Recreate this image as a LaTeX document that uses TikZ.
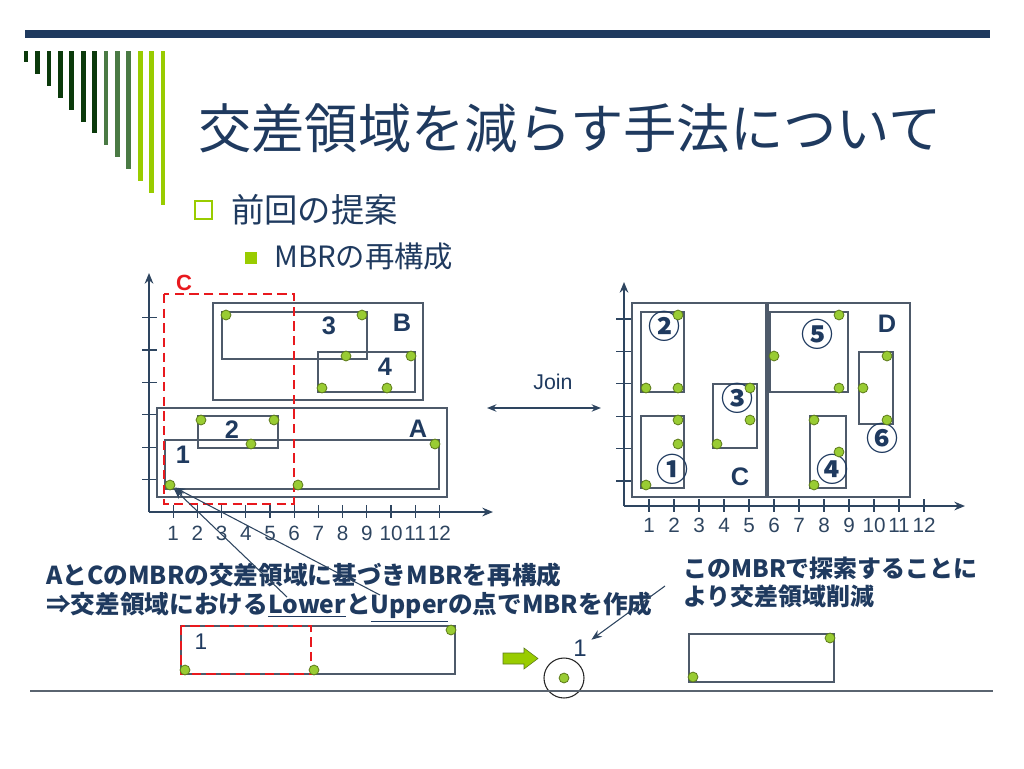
\documentclass[tikz,border=0pt]{standalone}
\usepackage{fontspec}
\setmainfont{Liberation Sans}
\newfontfamily\jp{Noto Sans CJK JP}
\usetikzlibrary{arrows.meta}
\definecolor{navy}{HTML}{1F3A5F}
\definecolor{axisblue}{HTML}{2E4560}
\definecolor{boxgray}{HTML}{4E5A6A}
\definecolor{dotgreen}{HTML}{99CC33}
\definecolor{dotedge}{HTML}{5C7A1A}
\definecolor{cutred}{HTML}{E8191E}
\definecolor{lime}{HTML}{99CC00}
\definecolor{dkgreen}{HTML}{0B3A0B}
\definecolor{mdgreen}{HTML}{4A7A44}
\definecolor{rulegray}{HTML}{5A6470}
\tikzset{
  mbr/.style={draw=boxgray, line width=1.1pt},
  pt/.style={circle, draw=dotedge, fill=dotgreen, line width=0.6pt, inner sep=0pt, minimum size=7.4pt},
  axis/.style={draw=axisblue, line width=1.3pt, -{Stealth[length=8pt,width=6.5pt]}},
  tick/.style={draw=axisblue, line width=0.8pt},
  num/.style={font=\fontsize{15.5}{15.5}\selectfont, text=axisblue, inner sep=0pt},
  lbl/.style={font=\bfseries\fontsize{19}{19}\selectfont, text=navy, inner sep=1pt},
  circ/.style={font=\jp\bfseries\fontsize{24}{24}\selectfont, text=navy, inner sep=0pt},
  cut/.style={draw=cutred, line width=2pt, dash pattern=on 7pt off 4pt},
  pointer/.style={draw=axisblue, line width=0.8pt, -{Stealth[length=8pt,width=6pt]}},
  note/.style={anchor=west, font=\jp\bfseries\fontsize{18.5}{18.5}\selectfont, text=navy, inner sep=0pt},
}
\begin{document}
\begin{tikzpicture}[x=0.75pt,y=-0.75pt]
\useasboundingbox (0,0) rectangle (1024,768);
% header
\fill[navy] (25,30) rectangle (990,38);
\foreach \i/\c in {0/dkgreen,1/dkgreen,2/dkgreen,3/dkgreen,4/dkgreen,5/dkgreen,6/dkgreen,7/mdgreen,8/mdgreen,9/mdgreen,10/lime,11/lime,12/lime}
  \fill[\c] ({23.7+11.42*\i},51) rectangle ({28.4+11.42*\i},{62+11.9*\i});
\node[font=\jp\fontsize{40}{40}\selectfont, text=navy] (title) at (570,128) {交差領域を減らす手法について};
\draw[lime, line width=1.6pt] (195,201) rectangle (212,219);
\node[anchor=west, font=\jp\fontsize{25}{25}\selectfont, text=navy, inner sep=0pt] (item1) at (231,210) {前回の提案};
\fill[lime] (245,252) rectangle (257,264);
\node[anchor=west, font=\jp\fontsize{22}{22}\selectfont, text=navy, inner sep=0pt] (item2) at (274,256) {MBRの再構成};
% left chart
\draw[axis] (149,512) -- (493,512);
\draw[axis] (149,512) -- (149,273);
\foreach \i in {1,...,12} {
  \draw[tick] ({149+24.2*\i},505) -- ({149+24.2*\i},518);
  \node[num] (lx\i) at ({149+24.2*\i},533) {\i};
}
\foreach \j in {1,...,6}
  \draw[tick] (142,{512-32.4*\j}) -- (157,{512-32.4*\j});
\draw[mbr] (213,303) rectangle (423,400);
\draw[mbr] (222,312) rectangle (367,359);
\draw[mbr] (318,352) rectangle (415,392);
\draw[mbr] (157,408) rectangle (447,497);
\draw[mbr] (198,416) rectangle (278,448);
\draw[mbr] (165,440) rectangle (439,489);
\draw[cut] (164,294) rectangle (294,504);
\node[font=\bfseries\fontsize{16.5}{16.5}\selectfont, text=cutred] (lc) at (184,283) {C};
\node[lbl] (lb) at (402,323) {B};
\node[lbl] (l3) at (329,326) {3};
\node[lbl] (l4) at (385,367) {4};
\node[lbl] (la) at (418,429) {A};
\node[lbl] (l2) at (232,430) {2};
\node[lbl] (l1) at (183,455) {1};
\node[pt] (b1) at (226,315) {};
\node[pt] (b2) at (362,315) {};
\node[pt] (b3) at (346,356) {};
\node[pt] (b4) at (411,356) {};
\node[pt] (b5) at (322,388) {};
\node[pt] (b6) at (387,388) {};
\node[pt] (a1) at (201,420) {};
\node[pt] (a2) at (274,420) {};
\node[pt] (a3) at (251,444) {};
\node[pt] (a4) at (435,444) {};
\node[pt] (a5) at (170,485) {};
\node[pt] (a6) at (298,485) {};
% join
\node[font=\fontsize{16}{16}\selectfont, text=navy] (join) at (553,382) {Join};
\coordinate (jl) at (487,408);
\coordinate (jr) at (601,408);
\draw[axisblue, line width=1.2pt, {Stealth[length=7pt,width=5.5pt]}-{Stealth[length=7pt,width=5.5pt]}] (jl) -- (jr);
% right chart
\draw[axis] (624,506) -- (965,506);
\draw[axis] (624,506) -- (624,282);
\foreach \i in {1,...,12} {
  \draw[tick] ({624+25*\i},499) -- ({624+25*\i},512);
  \node[num] (rx\i) at ({624+25*\i},525) {\i};
}
\foreach \j in {1,...,6}
  \draw[tick] (616,{513.4-32.4*\j}) -- (633,{513.4-32.4*\j});
\draw[mbr] (632,303) rectangle (766,497);
\draw[mbr] (768,303) rectangle (910,497);
\draw[mbr] (641,312) rectangle (684,392);
\draw[mbr] (641,416) rectangle (684,488);
\draw[mbr] (713,384) rectangle (757,448);
\draw[mbr] (770,312) rectangle (848,392);
\draw[mbr] (810,416) rectangle (846,488);
\draw[mbr] (859,352) rectangle (893,424);
\node[circ] (c2) at (664,326) {②};
\node[circ] (c5) at (817,334) {⑤};
\node[circ] (c3) at (737,398) {③};
\node[circ] (c6) at (882,438) {⑥};
\node[circ] (c1) at (672,469) {①};
\node[circ] (c4) at (832,469) {④};
\node[lbl] (ld) at (887,324) {D};
\node[lbl] (lcc) at (740,477) {C};
\node[pt] (r1) at (678,315) {};
\node[pt] (r2) at (646,388) {};
\node[pt] (r3) at (678,388) {};
\node[pt] (r4) at (678,420) {};
\node[pt] (r5) at (678,444) {};
\node[pt] (r6) at (646,485) {};
\node[pt] (r7) at (750,388) {};
\node[pt] (r8) at (750,420) {};
\node[pt] (r9) at (717,444) {};
\node[pt] (r10) at (839,315) {};
\node[pt] (r11) at (774,356) {};
\node[pt] (r12) at (839,388) {};
\node[pt] (r13) at (814,420) {};
\node[pt] (r14) at (839,452) {};
\node[pt] (r15) at (814,485) {};
\node[pt] (r16) at (887,356) {};
\node[pt] (r17) at (863,388) {};
\node[pt] (r18) at (887,420) {};
% notes
\node[note] (note1) at (46,575) {AとCのMBRの交差領域に基づきMBRを再構成};
\node[note] (note2) at (46,607) {⇒交差領域における\underline{Lower}と\underline{Upper}の点でMBRを作成};
\coordinate (lowtip) at (287,597);
\coordinate (uptip) at (380,595);
\draw[pointer] (lowtip) -- (a5);
\draw[pointer] (uptip) -- (a5);
\node[note, font=\jp\bfseries\fontsize{18}{18}\selectfont] (note3) at (683,568) {このMBRで探索することに};
\node[note, font=\jp\bfseries\fontsize{18}{18}\selectfont] (note4) at (683,596) {より交差領域削減};
% bottom row
\draw[mbr] (181,626) rectangle (455,674);
\draw[cut] (181,626) rectangle (311,674);
\node[font=\fontsize{17}{17}\selectfont, text=navy] (one1) at (201,642) {1};
\node[pt] (s1) at (185,670) {};
\node[pt] (s2) at (314,670) {};
\node[pt] (s3) at (451,630) {};
\draw[fill=lime, draw=dotedge, line width=0.4pt] (503,653) -- (524,653) -- (524,648) -- (538,658.5) -- (524,669) -- (524,664) -- (503,664) -- cycle;
\node[circle, draw=black!85, line width=0.8pt, minimum size=30pt, inner sep=0pt] (ring) at (564,678) {};
\node[pt] (s4) at (ring.center) {};
\node[font=\fontsize{18}{18}\selectfont, text=navy] (one2) at (580,648) {1};
\coordinate (ntail) at (665,586);
\draw[pointer] (ntail) -- (one2);
\draw[mbr] (689,634) rectangle (834,682);
\node[pt] (s5) at (693,677) {};
\node[pt] (s6) at (830,638) {};
\draw[rulegray, line width=1.3pt] (30,691) -- (993,691);
\end{tikzpicture}
\end{document}
